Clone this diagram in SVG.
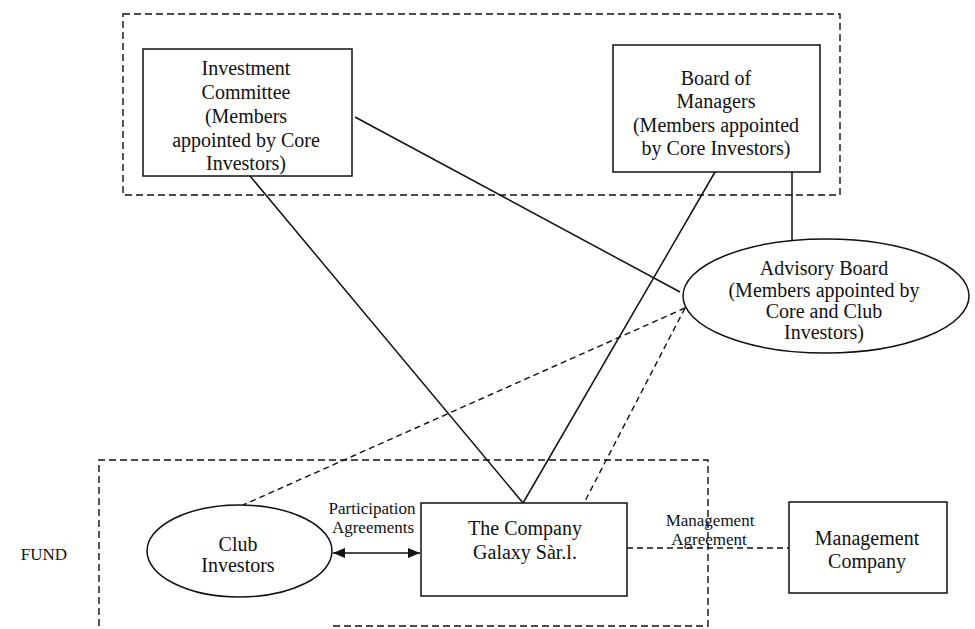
<svg xmlns="http://www.w3.org/2000/svg" width="975" height="629" viewBox="0 0 975 629">
<defs>
<style>
.node{fill:#fff;stroke:#111;stroke-width:1.5}
.grp{fill:none;stroke:#111;stroke-width:1.4;stroke-dasharray:7 4}
.ln{fill:none;stroke:#111;stroke-width:1.5}
.dl{fill:none;stroke:#111;stroke-width:1.4;stroke-dasharray:6 4}
.t{font-family:"Liberation Serif","Times New Roman",serif;font-size:20px;fill:#111;text-anchor:middle}
.s{font-family:"Liberation Serif","Times New Roman",serif;font-size:17px;fill:#111;text-anchor:middle}
</style>
<marker id="ah" viewBox="0 0 12 10" refX="12" refY="5" markerWidth="12" markerHeight="10" markerUnits="userSpaceOnUse" orient="auto-start-reverse">
<path d="M0,0 L12,5 L0,10 Z" fill="#111"/>
</marker>
</defs>
<rect width="975" height="629" fill="#fff"/>
<g id="groups">
<rect class="grp" x="123" y="14" width="717" height="181"/>
<path class="grp" d="M99,626 V460 H708 V626 H333"/>
</g>
<g id="connectors">
<line class="ln" x1="355" y1="117" x2="680" y2="292"/>
<line class="ln" x1="250" y1="176" x2="523" y2="503"/>
<line class="ln" x1="715" y1="172" x2="523" y2="503"/>
<line class="ln" x1="792" y1="160" x2="792" y2="240"/>
<line class="dl" x1="685" y1="308" x2="243" y2="505"/>
<line class="dl" x1="685" y1="308" x2="584" y2="503"/>
<line class="ln" x1="333" y1="553" x2="420" y2="553" marker-start="url(#ah)" marker-end="url(#ah)"/>
<line class="dl" x1="627" y1="548" x2="789" y2="548"/>
<text class="s" x="372" y="514">Participation</text>
<text class="s" x="373" y="533">Agreements</text>
<text class="s" x="710" y="526">Management</text>
<text class="s" x="709" y="545">Agreement</text>
</g>
<g id="investment-committee">
<rect class="node" x="143" y="49" width="209" height="127"/>
<text class="t" x="246" y="75">Investment</text>
<text class="t" x="246" y="99">Committee</text>
<text class="t" x="246" y="123">(Members</text>
<text class="t" x="246" y="147">appointed by Core</text>
<text class="t" x="246" y="170">Investors)</text>
</g>
<g id="board-of-managers">
<rect class="node" x="613" y="45" width="207" height="127"/>
<text class="t" x="716" y="85">Board of</text>
<text class="t" x="716" y="108">Managers</text>
<text class="t" x="716" y="132">(Members appointed</text>
<text class="t" x="716" y="155">by Core Investors)</text>
</g>
<g id="advisory-board">
<ellipse class="node" cx="826" cy="296" rx="143" ry="57"/>
<text class="t" x="824" y="275">Advisory Board</text>
<text class="t" x="824" y="297">(Members appointed by</text>
<text class="t" x="824" y="318">Core and Club</text>
<text class="t" x="824" y="339">Investors)</text>
</g>
<g id="club-investors">
<ellipse class="node" cx="239.5" cy="551" rx="92.5" ry="46"/>
<text class="t" x="238" y="551">Club</text>
<text class="t" x="238" y="572">Investors</text>
</g>
<g id="company">
<rect class="node" x="421" y="503" width="206" height="93"/>
<text class="t" x="525" y="535">The Company</text>
<text class="t" x="525" y="559">Galaxy Sàr.l.</text>
</g>
<g id="management-company">
<rect class="node" x="789" y="502" width="158" height="91"/>
<text class="t" x="867" y="545">Management</text>
<text class="t" x="867" y="568">Company</text>
</g>
<g id="fund-label">
<text class="s" x="67" y="560" style="text-anchor:end">FUND</text>
</g>
</svg>
